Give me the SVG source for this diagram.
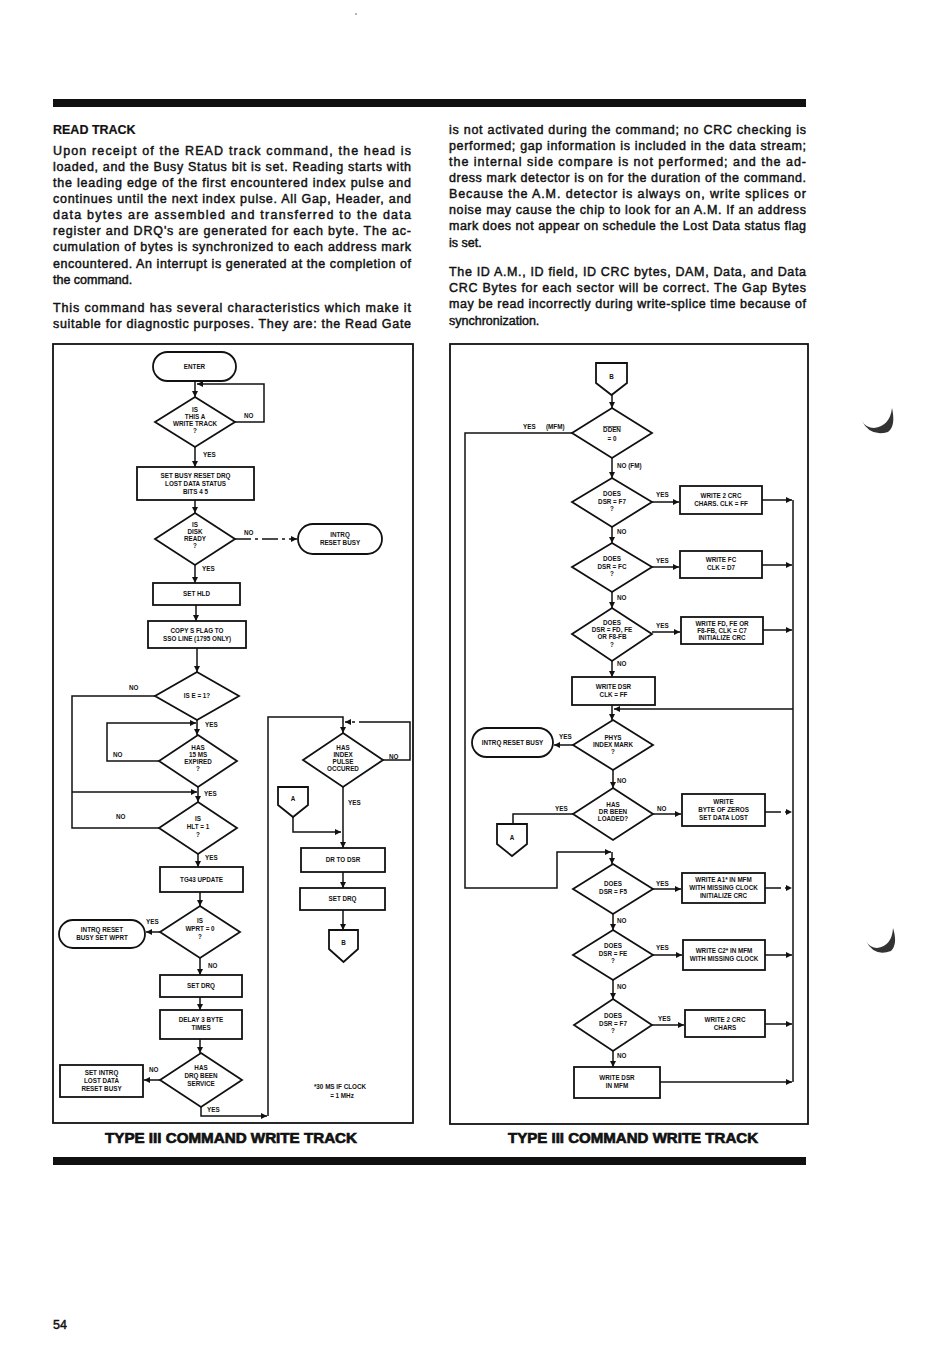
<svg xmlns="http://www.w3.org/2000/svg" width="950" height="1350" viewBox="0 0 950 1350">
<style>
.t{font-family:"Liberation Sans",Arial,sans-serif;font-size:12.5px;fill:#111;stroke:#111;stroke-width:0.45}
.h{font-weight:bold;stroke-width:0.2}
.cap{font-family:"Liberation Sans",Arial,sans-serif;font-size:15px;font-weight:bold;fill:#111;stroke:#111;stroke-width:0.7}
.n{fill:#fff;stroke:#111;stroke-width:1.8}
.c{fill:none;stroke:#111;stroke-width:1.5}
.d{stroke-dasharray:16 4 3 4}
.l{font-family:"Liberation Sans",Arial,sans-serif;font-size:6.3px;font-weight:bold;text-anchor:middle;fill:#111}
.y{font-family:"Liberation Sans",Arial,sans-serif;font-size:6.3px;font-weight:bold;fill:#111}
.frame{fill:none;stroke:#111;stroke-width:1.8}
</style>
<defs>
<marker id="ar" markerWidth="6" markerHeight="6" refX="6" refY="3" orient="auto" markerUnits="userSpaceOnUse"><path d="M0,0 L6,3 L0,6 z" fill="#111"/></marker>
</defs>
<rect width="950" height="1350" fill="#fff"/>
<circle cx="356" cy="14" r="0.8" fill="#555"/>
<rect x="53" y="99" width="753" height="8" fill="#111"/>
<rect x="53" y="1157" width="753" height="8" fill="#111"/>

<g id="text-left">
<text class="t h" x="53" y="134">READ TRACK</text>
<text class="t" x="53" y="155" textLength="358" lengthAdjust="spacing">Upon receipt of the READ track command, the head is</text>
<text class="t" x="53" y="171" textLength="358" lengthAdjust="spacing">loaded, and the Busy Status bit is set. Reading starts with</text>
<text class="t" x="53" y="187" textLength="358" lengthAdjust="spacing">the leading edge of the first encountered index pulse and</text>
<text class="t" x="53" y="203" textLength="358" lengthAdjust="spacing">continues until the next index pulse. All Gap, Header, and</text>
<text class="t" x="53" y="219" textLength="358" lengthAdjust="spacing">data bytes are assembled and transferred to the data</text>
<text class="t" x="53" y="235" textLength="358" lengthAdjust="spacing">register and DRQ's are generated for each byte. The ac-</text>
<text class="t" x="53" y="251" textLength="358" lengthAdjust="spacing">cumulation of bytes is synchronized to each address mark</text>
<text class="t" x="53" y="268" textLength="358" lengthAdjust="spacing">encountered. An interrupt is generated at the completion of</text>
<text class="t" x="53" y="284">the command.</text>
<text class="t" x="53" y="312" textLength="358" lengthAdjust="spacing">This command has several characteristics which make it</text>
<text class="t" x="53" y="328" textLength="358" lengthAdjust="spacing">suitable for diagnostic purposes. They are: the Read Gate</text>
</g>
<g id="text-right">
<text class="t" x="449" y="134" textLength="357" lengthAdjust="spacing">is not activated during the command; no CRC checking is</text>
<text class="t" x="449" y="150" textLength="357" lengthAdjust="spacing">performed; gap information is included in the data stream;</text>
<text class="t" x="449" y="166" textLength="357" lengthAdjust="spacing">the internal side compare is not performed; and the ad-</text>
<text class="t" x="449" y="182" textLength="357" lengthAdjust="spacing">dress mark detector is on for the duration of the command.</text>
<text class="t" x="449" y="198" textLength="357" lengthAdjust="spacing">Because the A.M. detector is always on, write splices or</text>
<text class="t" x="449" y="214" textLength="357" lengthAdjust="spacing">noise may cause the chip to look for an A.M. If an address</text>
<text class="t" x="449" y="230" textLength="357" lengthAdjust="spacing">mark does not appear on schedule the Lost Data status flag</text>
<text class="t" x="449" y="247">is set.</text>
<text class="t" x="449" y="276" textLength="357" lengthAdjust="spacing">The ID A.M., ID field, ID CRC bytes, DAM, Data, and Data</text>
<text class="t" x="449" y="292" textLength="357" lengthAdjust="spacing">CRC Bytes for each sector will be correct. The Gap Bytes</text>
<text class="t" x="449" y="308" textLength="357" lengthAdjust="spacing">may be read incorrectly during write-splice time because of</text>
<text class="t" x="449" y="325">synchronization.</text>
</g>

<rect class="frame" x="53" y="344" width="360" height="779"/>
<rect class="frame" x="450" y="344" width="358" height="780"/>

<g id="connectors-left">
<path class="c" d="M195,381 V397" marker-end="url(#ar)"/>
<path class="c" d="M235,422 H264 V384 H197" marker-end="url(#ar)"/>
<path class="c" d="M195,447 V467" marker-end="url(#ar)"/>
<path class="c" d="M195,500 V513" marker-end="url(#ar)"/>
<path class="c d" d="M235,539 H297" marker-end="url(#ar)"/>
<path class="c" d="M195,565 V583" marker-end="url(#ar)"/>
<path class="c" d="M196,605 V621" marker-end="url(#ar)"/>
<path class="c" d="M197,648 V672" marker-end="url(#ar)"/>
<path class="c" d="M155,696 H72 V828 H159"/>
<path class="c" d="M72,792 H197" marker-end="url(#ar)"/>
<path class="c" d="M197,720 V735" marker-end="url(#ar)"/>
<path class="c" d="M159,761 H107 V723 H196" marker-end="url(#ar)"/>
<path class="c" d="M198,787 V802" marker-end="url(#ar)"/>
<path class="c" d="M198,854 V867" marker-end="url(#ar)"/>
<path class="c" d="M200,892 V906" marker-end="url(#ar)"/>
<path class="c" d="M160,932 H146" marker-end="url(#ar)"/>
<path class="c" d="M200,958 V975" marker-end="url(#ar)"/>
<path class="c" d="M200,997 V1010" marker-end="url(#ar)"/>
<path class="c" d="M200,1039 V1053" marker-end="url(#ar)"/>
<path class="c" d="M160,1080 H144" marker-end="url(#ar)"/>
<path class="c" d="M201,1107 V1116 H267" marker-end="url(#ar)"/>
<path class="c" d="M268,1116 V717 H343 V733" marker-end="url(#ar)"/>
<path class="c" d="M383,760 H410 V722 H375"/>
<path class="c d" d="M375,722 H345" marker-end="url(#ar)"/>
<path class="c" d="M343,787 V848" marker-end="url(#ar)"/>
<path class="c" d="M293,817 V832 H341" marker-end="url(#ar)"/>
<path class="c" d="M343,872 V888" marker-end="url(#ar)"/>
<path class="c" d="M343,910 V930" marker-end="url(#ar)"/>
<text class="y" x="244" y="418">NO</text>
<text class="y" x="203" y="457">YES</text>
<text class="y" x="244" y="535">NO</text>
<text class="y" x="202" y="571">YES</text>
<text class="y" x="129" y="690">NO</text>
<text class="y" x="205" y="727">YES</text>
<text class="y" x="113" y="757">NO</text>
<text class="y" x="204" y="796">YES</text>
<text class="y" x="116" y="819">NO</text>
<text class="y" x="205" y="860">YES</text>
<text class="y" x="146" y="924">YES</text>
<text class="y" x="208" y="968">NO</text>
<text class="y" x="149" y="1072">NO</text>
<text class="y" x="207" y="1112">YES</text>
<text class="y" x="389" y="759">NO</text>
<text class="y" x="348" y="805">YES</text>
</g>

<g id="n-enter"><rect class="n" x="153" y="352" width="83" height="29" rx="14.5"/><text class="l" x="194.5" y="369">ENTER</text></g>
<g id="n-writetrack"><polygon class="n" points="195,397 235,422 195,447 155,422"/><text class="l" x="195" y="412">IS</text><text class="l" x="195" y="419">THIS A</text><text class="l" x="195" y="426">WRITE TRACK</text><text class="l" x="195" y="433">?</text></g>
<g id="n-setbusy"><rect class="n" x="137" y="467" width="117" height="33"/><text class="l" x="195.5" y="478">SET BUSY RESET DRQ</text><text class="l" x="195.5" y="486">LOST DATA STATUS</text><text class="l" x="195.5" y="494">BITS 4 5</text></g>
<g id="n-ready"><polygon class="n" points="195,513 235,539 195,565 155,539"/><text class="l" x="195" y="527">IS</text><text class="l" x="195" y="534">DISK</text><text class="l" x="195" y="541">READY</text><text class="l" x="195" y="548">?</text></g>
<g id="n-intrq1"><rect class="n" x="298" y="524" width="84" height="30" rx="15"/><text class="l" x="340" y="537">INTRQ</text><text class="l" x="340" y="545">RESET BUSY</text></g>
<g id="n-sethld"><rect class="n" x="153" y="583" width="87" height="22"/><text class="l" x="196.5" y="596">SET HLD</text></g>
<g id="n-copy"><rect class="n" x="148" y="621" width="98" height="27"/><text class="l" x="197" y="633">COPY S FLAG TO</text><text class="l" x="197" y="641">SSO LINE (1795 ONLY)</text></g>
<g id="n-e1"><polygon class="n" points="197,672 239,696 197,720 155,696"/><text class="l" x="197" y="698">IS E = 1?</text></g>
<g id="n-15ms"><polygon class="n" points="198,735 237,761 198,787 159,761"/><text class="l" x="198" y="750">HAS</text><text class="l" x="198" y="757">15 MS</text><text class="l" x="198" y="764">EXPIRED</text><text class="l" x="198" y="771">?</text></g>
<g id="n-hlt"><polygon class="n" points="198,802 237,828 198,854 159,828"/><text class="l" x="198" y="821">IS</text><text class="l" x="198" y="829">HLT = 1</text><text class="l" x="198" y="837">?</text></g>
<g id="n-tg43"><rect class="n" x="160" y="867" width="83" height="25"/><text class="l" x="201.5" y="882">TG43 UPDATE</text></g>
<g id="n-wprt"><polygon class="n" points="200,906 240,932 200,958 160,932"/><text class="l" x="200" y="923">IS</text><text class="l" x="200" y="931">WPRT = 0</text><text class="l" x="200" y="939">?</text></g>
<g id="n-intrq2"><rect class="n" x="59" y="920" width="86" height="28" rx="14"/><text class="l" x="102" y="932">INTRQ RESET</text><text class="l" x="102" y="940">BUSY SET WPRT</text></g>
<g id="n-setdrq1"><rect class="n" x="160" y="975" width="82" height="22"/><text class="l" x="201" y="988">SET DRQ</text></g>
<g id="n-delay"><rect class="n" x="160" y="1010" width="82" height="29"/><text class="l" x="201" y="1022">DELAY 3 BYTE</text><text class="l" x="201" y="1030">TIMES</text></g>
<g id="n-drqserv"><polygon class="n" points="201,1053 242,1080 201,1107 160,1080"/><text class="l" x="201" y="1070">HAS</text><text class="l" x="201" y="1078">DRQ BEEN</text><text class="l" x="201" y="1086">SERVICE</text></g>
<g id="n-lostdata"><rect class="n" x="60" y="1065" width="83" height="32"/><text class="l" x="101.5" y="1075">SET INTRQ</text><text class="l" x="101.5" y="1083">LOST DATA</text><text class="l" x="101.5" y="1091">RESET BUSY</text></g>
<g id="n-index"><polygon class="n" points="343,733 383,760 343,787 303,760"/><text class="l" x="343" y="750">HAS</text><text class="l" x="343" y="757">INDEX</text><text class="l" x="343" y="764">PULSE</text><text class="l" x="343" y="771">OCCURED</text></g>
<g id="n-a1"><polygon class="n" points="278,787 308,787 308,805 293,817 278,805"/><text class="l" x="293" y="801">A</text></g>
<g id="n-drtodsr"><rect class="n" x="301" y="848" width="84" height="24"/><text class="l" x="343" y="862">DR TO DSR</text></g>
<g id="n-setdrq2"><rect class="n" x="300" y="888" width="85" height="22"/><text class="l" x="342.5" y="901">SET DRQ</text></g>
<g id="n-b1"><polygon class="n" points="329,930 358,930 358,949 343.5,962 329,949"/><text class="l" x="343.5" y="945">B</text></g>
<g id="note"><text class="l" x="340" y="1089">*30 MS IF CLOCK</text><text class="l" x="342" y="1098">= 1 MHz</text></g>

<g id="connectors-right">
<path class="c" d="M612,395 V408" marker-end="url(#ar)"/>
<path class="c" d="M572,433 H465 V888 H557 V852 H611" marker-end="url(#ar)"/>
<path class="c" d="M612,852 V864" marker-end="url(#ar)"/>
<path class="c" d="M612,458 V478" marker-end="url(#ar)"/>
<path class="c" d="M652,502 H679" marker-end="url(#ar)"/>
<path class="c" d="M762,500 H792" marker-end="url(#ar)"/>
<path class="c" d="M612,527 V543" marker-end="url(#ar)"/>
<path class="c" d="M652,567 H679" marker-end="url(#ar)"/>
<path class="c" d="M762,565 H792" marker-end="url(#ar)"/>
<path class="c" d="M612,661 V677" marker-end="url(#ar)"/>
<path class="c" d="M612,592 V608" marker-end="url(#ar)"/>
<path class="c" d="M652,632 H680" marker-end="url(#ar)"/>
<path class="c" d="M763,630 H792" marker-end="url(#ar)"/>
<path class="c" d="M793,500 V1082"/>
<path class="c" d="M793,709 H614" marker-end="url(#ar)"/>
<path class="c" d="M612,705 V720" marker-end="url(#ar)"/>
<path class="c" d="M573,745 H554" marker-end="url(#ar)"/>
<path class="c" d="M613,770 V788" marker-end="url(#ar)"/>
<path class="c" d="M573,814 H513 V824"/>
<path class="c" d="M653,814 H681" marker-end="url(#ar)"/>
<path class="c d" d="M765,812 H792" marker-end="url(#ar)"/>
<path class="c" d="M653,889 H681" marker-end="url(#ar)"/>
<path class="c d" d="M765,888 H792" marker-end="url(#ar)"/>
<path class="c" d="M613,914 V930" marker-end="url(#ar)"/>
<path class="c" d="M653,955 H682" marker-end="url(#ar)"/>
<path class="c" d="M765,955 H792" marker-end="url(#ar)"/>
<path class="c" d="M613,980 V999" marker-end="url(#ar)"/>
<path class="c" d="M652,1025 H684" marker-end="url(#ar)"/>
<path class="c" d="M765,1024 H792" marker-end="url(#ar)"/>
<path class="c" d="M613,1051 V1067" marker-end="url(#ar)"/>
<path class="c" d="M660,1082 H792" marker-end="url(#ar)"/>
<text class="y" x="523" y="429">YES</text>
<text class="y" x="546" y="429">(MFM)</text>
<text class="y" x="617" y="468">NO (FM)</text>
<text class="y" x="656" y="497">YES</text>
<text class="y" x="617" y="534">NO</text>
<text class="y" x="656" y="563">YES</text>
<text class="y" x="617" y="600">NO</text>
<text class="y" x="656" y="628">YES</text>
<text class="y" x="617" y="666">NO</text>
<text class="y" x="559" y="739">YES</text>
<text class="y" x="617" y="783">NO</text>
<text class="y" x="555" y="811">YES</text>
<text class="y" x="657" y="811">NO</text>
<text class="y" x="656" y="886">YES</text>
<text class="y" x="617" y="923">NO</text>
<text class="y" x="656" y="950">YES</text>
<text class="y" x="617" y="989">NO</text>
<text class="y" x="658" y="1021">YES</text>
<text class="y" x="617" y="1058">NO</text>
</g>

<g id="n-b2"><polygon class="n" points="596,363 627,363 627,383 611.5,395 596,383"/><text class="l" x="611.5" y="379">B</text></g>
<g id="n-dden"><polygon class="n" points="612,408 652,433 612,458 572,433"/><text class="l" x="612" y="432" style="text-decoration:overline">DDEN</text><text class="l" x="612" y="441">= 0</text></g>
<g id="n-f7a"><polygon class="n" points="612,478 652,502 612,527 572,502"/><text class="l" x="612" y="496">DOES</text><text class="l" x="612" y="504">DSR = F7</text><text class="l" x="612" y="511">?</text></g>
<g id="n-crc1"><rect class="n" x="680" y="486" width="82" height="28"/><text class="l" x="721" y="498">WRITE 2 CRC</text><text class="l" x="721" y="506">CHARS. CLK = FF</text></g>
<g id="n-fc"><polygon class="n" points="612,543 652,567 612,592 572,567"/><text class="l" x="612" y="561">DOES</text><text class="l" x="612" y="569">DSR = FC</text><text class="l" x="612" y="576">?</text></g>
<g id="n-wfc"><rect class="n" x="680" y="551" width="82" height="27"/><text class="l" x="721" y="562">WRITE FC</text><text class="l" x="721" y="570">CLK = D7</text></g>
<g id="n-fdfe"><polygon class="n" points="612,608 652,634 612,661 572,634"/><text class="l" x="612" y="625">DOES</text><text class="l" x="612" y="632">DSR = FD, FE</text><text class="l" x="612" y="639">OR F8-FB</text><text class="l" x="612" y="647">?</text></g>
<g id="n-wfd"><rect class="n" x="681" y="617" width="82" height="27"/><text class="l" x="722" y="626">WRITE FD, FE OR</text><text class="l" x="722" y="633">F8-FB, CLK = C7</text><text class="l" x="722" y="640">INITIALIZE CRC</text></g>
<g id="n-wdsr1"><rect class="n" x="572" y="677" width="83" height="28"/><text class="l" x="613.5" y="689">WRITE DSR</text><text class="l" x="613.5" y="697">CLK = FF</text></g>
<g id="n-phys"><polygon class="n" points="613,720 653,745 613,770 573,745"/><text class="l" x="613" y="740">PHYS</text><text class="l" x="613" y="747">INDEX MARK</text><text class="l" x="613" y="754">?</text></g>
<g id="n-intrq3"><rect class="n" x="472" y="728" width="81" height="29" rx="14.5"/><text class="l" x="512.5" y="745">INTRQ RESET BUSY</text></g>
<g id="n-drload"><polygon class="n" points="613,788 653,814 613,840 573,814"/><text class="l" x="613" y="807">HAS</text><text class="l" x="613" y="814">DR BEEN</text><text class="l" x="613" y="821">LOADED?</text></g>
<g id="n-a2"><polygon class="n" points="497,824 527,824 527,844 512,856 497,844"/><text class="l" x="512" y="840">A</text></g>
<g id="n-zeros"><rect class="n" x="682" y="794" width="83" height="32"/><text class="l" x="723.5" y="804">WRITE</text><text class="l" x="723.5" y="812">BYTE OF ZEROS</text><text class="l" x="723.5" y="820">SET DATA LOST</text></g>
<g id="n-f5"><polygon class="n" points="613,864 653,889 613,914 573,889"/><text class="l" x="613" y="886">DOES</text><text class="l" x="613" y="894">DSR = F5</text></g>
<g id="n-a1w"><rect class="n" x="682" y="873" width="83" height="30"/><text class="l" x="723.5" y="882">WRITE A1* IN MFM</text><text class="l" x="723.5" y="890">WITH MISSING CLOCK</text><text class="l" x="723.5" y="898">INITIALIZE CRC</text></g>
<g id="n-fe"><polygon class="n" points="613,930 653,955 613,980 573,955"/><text class="l" x="613" y="948">DOES</text><text class="l" x="613" y="956">DSR = FE</text><text class="l" x="613" y="963">?</text></g>
<g id="n-c2w"><rect class="n" x="683" y="940" width="82" height="30"/><text class="l" x="724" y="953">WRITE C2* IN MFM</text><text class="l" x="724" y="961">WITH MISSING CLOCK</text></g>
<g id="n-f7b"><polygon class="n" points="613,999 652,1025 613,1051 574,1025"/><text class="l" x="613" y="1018">DOES</text><text class="l" x="613" y="1026">DSR = F7</text><text class="l" x="613" y="1033">?</text></g>
<g id="n-crc2"><rect class="n" x="685" y="1010" width="80" height="27"/><text class="l" x="725" y="1022">WRITE 2 CRC</text><text class="l" x="725" y="1030">CHARS</text></g>
<g id="n-wdsr2"><rect class="n" x="574" y="1067" width="86" height="31"/><text class="l" x="617" y="1080">WRITE DSR</text><text class="l" x="617" y="1088">IN MFM</text></g>

<text class="cap" x="105" y="1143" textLength="252" lengthAdjust="spacingAndGlyphs">TYPE III COMMAND WRITE TRACK</text>
<text class="cap" x="508" y="1143" textLength="250" lengthAdjust="spacingAndGlyphs">TYPE III COMMAND WRITE TRACK</text>
<text class="t" x="53" y="1329">54</text>

<path d="M862,421 Q870,437 888,432 Q896,426 892,408 Q890,426 874,428 Q866,428 862,421 Z" fill="#333"/>
<path d="M866,941 Q874,957 891,951 Q898,944 893,928 Q892,946 877,948 Q870,948 866,941 Z" fill="#333"/>
</svg>
